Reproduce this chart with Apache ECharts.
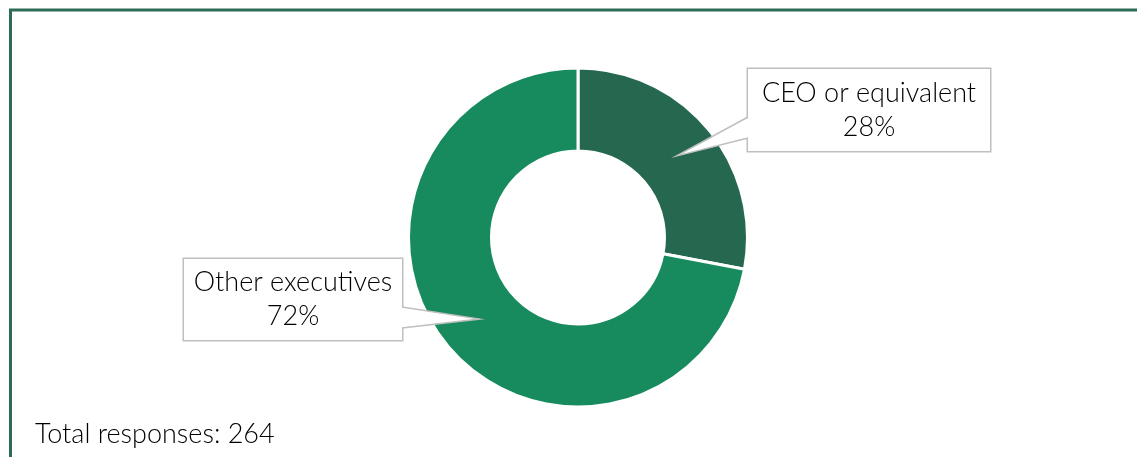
<!DOCTYPE html>
<html>
<head>
<meta charset="utf-8">
<script src="https://cdn.jsdelivr.net/npm/echarts@6/dist/echarts.min.js"></script>
<style>
html, body { margin: 0; padding: 0; background: #fff; }
#main { width: 1137px; height: 457px; }
</style>
</head>
<body>
<div id="main"></div>
<script>
var categories = ['CEO or equivalent', 'Other executives'];
var shares = [28, 72];
var totalResponses = 264;

var colors = ['#25684F', '#178B5D'];
var center = [578, 237.5];
var radius = [86.5, 169.5];
// callout boxes (layout only)
var boxes = [
    {left: 748, top: 69, width: 242, height: 82, side: 'left'},
    {left: 184, top: 259, width: 218, height: 81, side: 'right'}
];

var total = shares.reduce(function (a, b) { return a + b; }, 0);

var pieData = categories.map(function (name, i) {
    return {
        name: name,
        value: shares[i],
        itemStyle: {color: colors[i]},
        label: {width: boxes[i].width, height: boxes[i].height - 14}
    };
});

var option = {
    animation: false,
    graphic: [
        {
            type: 'rect',
            silent: true,
            shape: {x: 10.5, y: 10, width: 1300, height: 700},
            style: {fill: null, stroke: '#2E6B56', lineWidth: 3}
        },
        {
            type: 'text',
            silent: true,
            style: {
                text: 'Total responses: ' + totalResponses,
                x: 35, y: 434,
                verticalAlign: 'middle',
                fontFamily: 'Lato', fontWeight: 300, fontSize: 27,
                fill: '#000'
            }
        }
    ],
    series: [
        {
            type: 'pie',
            center: center,
            radius: radius,
            startAngle: 90,
            clockwise: true,
            avoidLabelOverlap: false,
            silent: true,
            itemStyle: {borderColor: '#fff', borderWidth: 3},
            label: {
                show: true,
                formatter: '{b}\n{d}%',
                fontFamily: 'Lato',
                fontWeight: 300,
                fontSize: 27,
                lineHeight: 34,
                color: '#000',
                align: 'center',
                backgroundColor: '#fff',
                borderColor: '#BFBFBF',
                borderWidth: 1.5,
                padding: [7, 0]
            },
            labelLine: {show: false},
            labelLayout: function (params) {
                var b = boxes[params.dataIndex];
                return {
                    x: b.left + b.width / 2,
                    y: b.top + b.height / 2,
                    align: 'center',
                    verticalAlign: 'middle'
                };
            },
            data: pieData
        },
        {
            // callout pointers from each box to the middle of its slice
            type: 'custom',
            coordinateSystem: 'none',
            silent: true,
            z: 10,
            data: shares.map(function (v, i) { return i; }),
            renderItem: function (params, api) {
                var i = params.dataIndex;
                var before = 0;
                for (var k = 0; k < i; k++) before += shares[k];
                var mid = (before + shares[i] / 2) / total * 2 * Math.PI;
                var r = (radius[0] + radius[1]) / 2;
                var tip = [center[0] + r * Math.sin(mid), center[1] - r * Math.cos(mid)];
                var b = boxes[i];
                var ex = b.side === 'left' ? b.left : b.left + b.width;
                var inset = b.side === 'left' ? 2 : -2;
                var y1 = b.top + 48, y2 = b.top + 69;
                return {
                    type: 'group',
                    children: [
                        {
                            type: 'polygon',
                            shape: {points: [[ex + inset, y1], tip, [ex + inset, y2]]},
                            style: {fill: '#fff', stroke: null}
                        },
                        {
                            type: 'polyline',
                            shape: {points: [[ex, y1], tip, [ex, y2]]},
                            style: {fill: null, stroke: '#BFBFBF', lineWidth: 1.5}
                        }
                    ]
                };
            }
        }
    ]
};

var myChart = echarts.init(document.getElementById('main'));
myChart.setOption(option);
</script>
</body>
</html>
